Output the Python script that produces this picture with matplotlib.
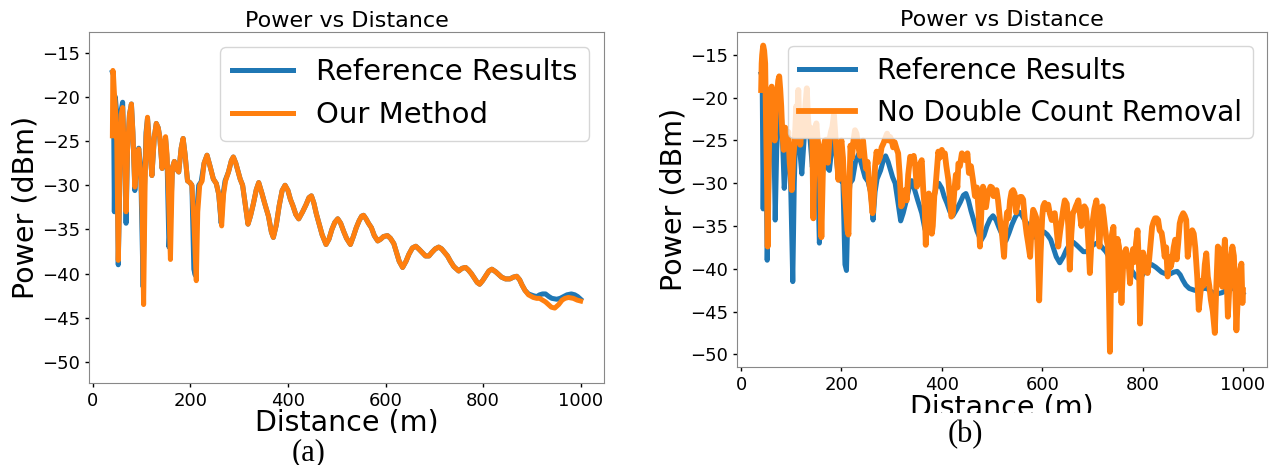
import matplotlib.pyplot as plt
from matplotlib.patches import Rectangle

plt.rcParams['font.family'] = ['DejaVu Sans']

# reference results (blue), used in both panels
ref_dist = [40, 42, 44, 46, 49, 52, 55, 58, 61, 64,
            66, 68, 71, 75, 79, 82, 86, 90, 94, 98,
            103, 106, 109, 112, 116, 121, 126, 130, 134, 137,
            142, 146, 149, 152, 156, 159, 163, 167, 172, 176,
            181, 185, 189, 194, 199, 203, 207, 210, 213, 217,
            222, 228, 234, 240, 247, 253, 258, 263, 267, 271,
            278, 284, 288, 293, 302, 307, 312, 318, 323, 329,
            335, 340, 346, 352, 360, 366, 370, 376, 382, 388,
            394, 400, 405, 410, 416, 422, 430, 437, 443, 448,
            453, 458, 463, 470, 478, 484, 490, 496, 502, 508,
            514, 520, 528, 534, 540, 546, 551, 555, 560, 565,
            571, 577, 584, 590, 596, 604, 610, 617, 622, 628,
            635, 642, 648, 655, 662, 668, 675, 682, 689, 695,
            702, 709, 715, 721, 727, 733, 740, 750, 757, 764,
            770, 776, 782, 788, 793, 799, 806, 812, 818, 826,
            832, 838, 846, 855, 862, 869, 875, 880, 886, 893,
            903, 910, 916, 922, 928, 935, 941, 951, 958, 965,
            972, 981, 988, 994, 1000]
ref_power = [-17.2, -17.5, -33.0, -20.0, -22.0, -39.0, -30.0, -21.5, -20.6, -26.5,
             -27.0, -34.3, -26.0, -22.0, -20.8, -24.0, -30.6, -27.5, -25.8, -28.0,
             -41.5, -30.0, -24.0, -22.4, -25.5, -28.9, -24.5, -23.0, -23.5, -24.5,
             -28.1, -25.5, -24.7, -27.0, -37.0, -34.0, -28.0, -27.3, -28.2, -28.5,
             -25.8, -24.7, -26.5, -29.5, -29.7, -30.0, -39.5, -40.2, -33.0, -30.0,
             -29.6, -27.5, -26.6, -27.8, -29.3, -29.8, -31.0, -34.3, -31.0, -29.5,
             -28.5, -27.2, -26.8, -27.5, -29.3, -30.0, -32.0, -34.4, -33.5, -32.1,
             -30.5, -29.7, -30.8, -32.0, -33.5, -35.3, -35.9, -34.5, -32.3, -30.6,
             -30.0, -30.6, -31.6, -32.3, -33.3, -33.8, -33.0, -32.2, -31.4, -31.2,
             -32.0, -33.2, -34.2, -35.6, -36.7, -36.1, -35.0, -34.2, -33.8, -34.3,
             -35.2, -36.0, -36.7, -35.8, -34.8, -34.0, -33.5, -33.4, -33.8, -34.3,
             -34.8, -35.7, -36.3, -36.1, -35.8, -35.7, -36.0, -36.6, -37.5, -38.6,
             -39.3, -38.6, -37.8, -37.1, -36.9, -37.2, -37.6, -38.0, -38.0, -37.6,
             -37.2, -37.0, -37.2, -37.6, -38.0, -38.6, -39.2, -39.7, -39.4, -39.3,
             -39.6, -40.0, -40.5, -41.0, -41.2, -40.8, -40.2, -39.7, -39.5, -39.8,
             -40.1, -40.4, -40.6, -40.6, -40.4, -40.3, -40.7, -41.3, -41.9, -42.3,
             -42.5, -42.6, -42.4, -42.3, -42.3, -42.6, -42.8, -42.9, -42.8, -42.6,
             -42.4, -42.3, -42.4, -42.6, -42.9]

# our method (orange, left panel)
ours_dist = [40, 41, 42, 44, 46, 49, 52, 55, 58, 61,
             64, 66, 68, 71, 75, 79, 82, 86, 90, 94,
             98, 101, 104, 107, 109, 112, 116, 121, 126, 130,
             134, 137, 142, 146, 149, 152, 155, 159, 163, 167,
             172, 176, 181, 185, 189, 194, 199, 203, 207, 212,
             215, 219, 224, 228, 234, 240, 247, 253, 258, 264,
             268, 272, 278, 284, 288, 293, 302, 307, 312, 318,
             323, 329, 335, 340, 346, 352, 360, 366, 370, 376,
             382, 388, 394, 400, 405, 410, 416, 422, 430, 437,
             443, 448, 453, 458, 463, 470, 478, 484, 490, 496,
             502, 508, 514, 520, 528, 534, 540, 546, 551, 555,
             560, 565, 571, 577, 584, 590, 596, 604, 610, 617,
             622, 628, 635, 642, 648, 655, 662, 668, 675, 682,
             689, 695, 702, 709, 715, 721, 727, 733, 740, 750,
             757, 764, 770, 776, 782, 788, 793, 799, 806, 812,
             818, 826, 832, 838, 846, 855, 862, 869, 875, 880,
             886, 893, 903, 910, 916, 922, 928, 934, 940, 947,
             955, 962, 968, 975, 985, 993, 1000]
ours_power = [-24.4, -17.0, -17.3, -19.5, -21.0, -25.0, -38.5, -30.0, -22.0, -21.2,
              -26.0, -27.0, -33.0, -26.0, -22.0, -20.8, -24.0, -30.2, -27.5, -25.9,
              -28.5, -33.0, -43.5, -30.0, -24.5, -22.3, -25.5, -28.9, -24.5, -23.0,
              -23.5, -24.5, -28.1, -25.5, -24.5, -26.5, -31.0, -38.4, -28.0, -27.3,
              -28.2, -28.5, -25.8, -24.7, -26.5, -29.5, -29.7, -30.0, -34.0, -40.8,
              -33.0, -30.0, -29.5, -27.5, -26.6, -27.8, -29.3, -29.8, -31.0, -34.6,
              -31.0, -29.5, -28.5, -27.2, -26.8, -27.5, -29.3, -30.0, -32.0, -34.4,
              -33.5, -32.1, -30.5, -29.7, -30.8, -32.0, -33.5, -35.3, -35.9, -34.5,
              -32.3, -30.6, -30.0, -30.6, -31.6, -32.3, -33.3, -33.8, -33.0, -32.2,
              -31.4, -31.2, -32.0, -33.2, -34.2, -35.6, -36.7, -36.1, -35.0, -34.2,
              -33.8, -34.3, -35.2, -36.0, -36.7, -35.8, -34.8, -34.0, -33.5, -33.4,
              -33.8, -34.3, -34.8, -35.7, -36.3, -36.1, -35.8, -35.7, -36.0, -36.6,
              -37.5, -38.6, -39.3, -38.6, -37.8, -37.1, -36.9, -37.2, -37.6, -38.0,
              -38.0, -37.6, -37.2, -37.0, -37.2, -37.6, -38.0, -38.6, -39.2, -39.7,
              -39.4, -39.3, -39.6, -40.0, -40.5, -41.0, -41.2, -40.8, -40.2, -39.7,
              -39.5, -39.8, -40.1, -40.4, -40.6, -40.6, -40.4, -40.3, -40.7, -41.3,
              -41.9, -42.4, -42.7, -42.8, -42.8, -43.0, -43.2, -43.5, -43.8, -43.9,
              -43.5, -43.0, -42.8, -42.7, -42.8, -43.0, -43.1]

# no double count removal (orange, right panel)
nodc_dist = [40, 41, 42, 44, 46, 48, 50, 52, 53, 55,
             57, 59, 61, 63, 65, 67, 69, 72, 74, 76,
             78, 80, 82, 85, 88, 91, 94, 97, 99, 101,
             104, 107, 110, 112, 114, 116, 118, 120, 123, 126,
             128, 131, 133, 136, 139, 142, 144, 146, 148, 150,
             152, 155, 158, 160, 162, 164, 167, 170, 173, 176,
             179, 182, 185, 188, 191, 194, 197, 200, 203, 206,
             209, 212, 214, 216, 218, 221, 224, 227, 230, 233,
             237, 240, 243, 246, 249, 252, 255, 258, 262, 264,
             267, 270, 273, 277, 280, 284, 287, 291, 294, 297,
             300, 303, 306, 310, 313, 316, 319, 321, 324, 327,
             330, 333, 337, 340, 344, 347, 350, 353, 357, 360,
             363, 366, 368, 371, 374, 377, 380, 382, 385, 387,
             390, 393, 396, 400, 403, 406, 409, 413, 416, 419,
             422, 425, 428, 431, 433, 436, 440, 444, 447, 451,
             454, 458, 462, 466, 470, 473, 476, 479, 482, 485,
             488, 491, 494, 497, 500, 503, 506, 509, 512, 516,
             520, 524, 527, 530, 533, 536, 539, 542, 545, 548,
             552, 556, 559, 562, 565, 569, 572, 576, 579, 582,
             585, 588, 591, 594, 597, 600, 602, 605, 608, 612,
             615, 619, 622, 625, 628, 632, 636, 639, 642, 645,
             649, 652, 655, 658, 661, 664, 667, 670, 672, 675,
             678, 681, 684, 687, 690, 693, 695, 698, 701, 704,
             708, 711, 714, 717, 720, 723, 725, 728, 731, 733,
             735, 737, 739, 742, 745, 748, 750, 753, 756, 758,
             761, 764, 767, 770, 773, 775, 778, 781, 784, 787,
             790, 793, 795, 798, 801, 804, 807, 810, 813, 816,
             819, 822, 825, 828, 831, 834, 838, 841, 844, 847,
             850, 853, 856, 859, 862, 865, 868, 871, 874, 877,
             881, 884, 887, 890, 893, 896, 899, 902, 905, 909,
             912, 915, 918, 921, 924, 927, 930, 933, 936, 940,
             944, 947, 950, 953, 956, 959, 962, 964, 967, 970,
             973, 976, 979, 982, 985, 987, 990, 993, 997, 999,
             1000]
nodc_power = [-19.1, -16.0, -15.0, -13.9, -14.5, -16.0, -24.0, -31.0, -37.4, -28.0,
              -22.0, -19.5, -18.7, -21.0, -23.8, -25.0, -21.0, -19.5, -18.0, -17.5,
              -19.0, -21.0, -24.0, -26.1, -23.5, -25.5, -24.0, -27.7, -29.0, -30.8,
              -27.0, -25.0, -21.0, -22.5, -19.1, -23.0, -25.5, -24.0, -22.0, -24.5,
              -21.0, -18.9, -22.0, -24.5, -23.5, -25.0, -34.1, -28.0, -24.6, -23.0,
              -24.5, -26.0, -30.0, -36.3, -31.0, -26.0, -25.0, -24.9, -27.6, -25.0,
              -24.0, -23.4, -22.0, -24.5, -27.0, -29.6, -26.0, -25.0, -27.0, -30.8,
              -33.0, -35.5, -36.0, -30.0, -25.6, -27.0, -25.0, -23.8, -24.2, -25.5,
              -26.8, -25.8, -25.0, -26.9, -28.3, -27.5, -29.8, -31.0, -33.5, -32.3,
              -28.0, -26.3, -27.5, -26.9, -25.8, -25.3, -24.8, -24.2, -25.0, -24.6,
              -25.0, -25.8, -25.2, -26.0, -26.5, -29.0, -32.7, -32.5, -31.0, -30.8,
              -32.0, -29.0, -26.9, -27.3, -26.8, -28.0, -30.4, -29.9, -27.7, -27.3,
              -30.8, -33.0, -37.2, -33.0, -31.2, -33.0, -35.9, -35.0, -31.5, -30.8,
              -28.5, -26.3, -27.0, -26.1, -26.8, -26.5, -28.0, -29.6, -31.8, -33.9,
              -33.5, -30.8, -29.0, -30.5, -27.7, -28.0, -26.5, -26.9, -27.3, -26.5,
              -28.8, -28.0, -29.6, -31.5, -30.5, -33.0, -37.4, -33.0, -30.4, -31.0,
              -32.8, -31.5, -30.9, -30.4, -30.5, -31.5, -31.0, -30.8, -32.0, -34.3,
              -36.0, -38.6, -35.0, -33.4, -34.1, -32.0, -31.0, -30.8, -31.2, -33.4,
              -32.0, -31.6, -31.6, -31.9, -34.0, -35.9, -37.0, -38.6, -35.0, -33.1,
              -33.5, -34.0, -38.0, -43.7, -38.0, -34.0, -32.7, -32.3, -33.0, -32.5,
              -33.5, -34.3, -33.8, -33.5, -35.0, -37.4, -35.5, -34.3, -33.0, -32.0,
              -32.4, -35.0, -40.1, -36.0, -33.5, -33.2, -32.7, -32.3, -32.0, -33.5,
              -35.0, -33.5, -32.7, -33.0, -35.0, -38.0, -40.5, -37.0, -34.3, -33.0,
              -32.0, -34.0, -37.4, -34.5, -32.7, -34.0, -35.1, -36.5, -37.4, -43.0,
              -49.7, -42.0, -36.0, -35.1, -42.5, -38.0, -36.5, -37.4, -41.0, -44.0,
              -40.0, -38.1, -37.7, -39.0, -40.0, -41.7, -39.0, -37.7, -39.2, -37.0,
              -35.5, -40.0, -46.4, -41.0, -38.1, -39.0, -38.9, -40.5, -39.0, -37.0,
              -35.1, -34.5, -34.1, -34.1, -34.3, -35.5, -35.8, -37.0, -38.6, -37.5,
              -40.9, -38.6, -39.8, -39.0, -37.5, -36.6, -38.9, -37.0, -34.7, -34.0,
              -33.5, -33.8, -34.3, -38.6, -37.0, -35.9, -35.5, -35.9, -37.5, -41.0,
              -44.8, -43.0, -41.4, -42.0, -39.5, -38.2, -40.9, -42.0, -43.6, -45.0,
              -47.5, -42.0, -37.4, -37.7, -40.0, -42.1, -38.5, -36.6, -40.0, -45.6,
              -42.0, -38.9, -37.4, -38.5, -43.0, -47.2, -43.0, -40.5, -39.4, -44.0,
              -42.5]

BLUE = '#1f77b4'
ORANGE = '#ff7f0e'
LW = 3.6

fig = plt.figure(figsize=(12.73, 4.65), dpi=100)
ax1 = fig.add_axes([0.0699, 0.176, 0.4046, 0.755])
ax2 = fig.add_axes([0.579, 0.2114, 0.4163, 0.7206])

ax1.plot(ref_dist, ref_power, color=BLUE, lw=LW, label='Reference Results')
ax1.plot(ours_dist, ours_power, color=ORANGE, lw=LW, label='Our Method')
ax1.set_ylim(-52.4, -12.66)

ax2.plot(ref_dist, ref_power, color=BLUE, lw=LW, label='Reference Results')
ax2.plot(nodc_dist, nodc_power, color=ORANGE, lw=4.2, label='No Double Count Removal')
ax2.set_ylim(-51.45, -12.27)

for ax in (ax1, ax2):
    ax.set_xlim(-8, 1048)
    ax.set_xticks([0, 200, 400, 600, 800, 1000])
    ax.set_yticks([-50, -45, -40, -35, -30, -25, -20, -15])
    ax.tick_params(labelsize=13, length=3, width=1)
    for sp in ax.spines.values():
        sp.set_color('#888888')
    ax.set_title('Power vs Distance', fontsize=16, pad=4)
    ax.set_ylabel('Power (dBm)', fontsize=20.5, labelpad=2)

ax1.set_xlabel('Distance (m)', fontsize=20.5, labelpad=-1)
ax2.set_xlabel('Distance (m)', fontsize=20.5, labelpad=0)
ax1.legend(loc='upper right', fontsize=21, handlelength=2.1)
ax2.legend(loc='upper right', fontsize=20)

# captions sit over the lower part of the axis labels
fig.add_artist(Rectangle((0, 0), 0.5, (465 - 433) / 465, transform=fig.transFigure,
                         facecolor='white', edgecolor='none', zorder=10))
fig.add_artist(Rectangle((0.5, 0), 0.5, (465 - 413) / 465, transform=fig.transFigure,
                         facecolor='white', edgecolor='none', zorder=10))
fig.text(309 / 1273, 1 - 453 / 465, '(a)', family='Liberation Serif', fontsize=22,
         ha='center', va='center', zorder=11)
fig.text(965 / 1273, 1 - 435 / 465, '(b)', family='Liberation Serif', fontsize=22,
         ha='center', va='center', zorder=11)

fig.savefig('out.png', dpi=100)
